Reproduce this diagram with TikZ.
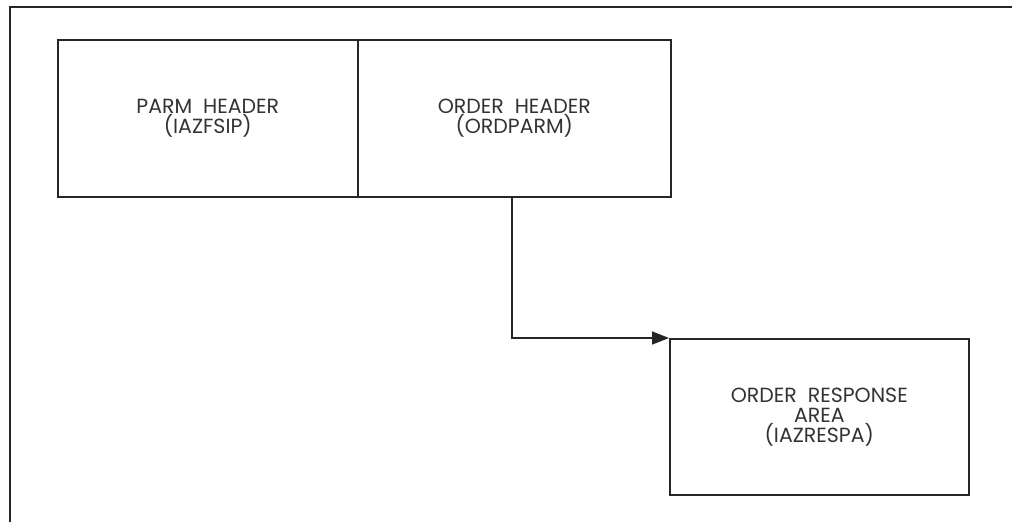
\documentclass[tikz,border=0pt]{standalone}
\usepackage{fontspec}
\setmainfont{Poppins}
\usetikzlibrary{arrows.meta}
\begin{document}
\begin{tikzpicture}[x=1pt,y=-1pt,
  blk/.style={draw=black!85,line width=1.6pt,rectangle,anchor=north west,inner sep=0pt,
    align=center,font=\fontsize{20.5}{20}\selectfont,text=black!80},
  link/.style={draw=black!85,line width=1.6pt,-{Triangle[length=17pt,width=13pt]}}]
\useasboundingbox (0,0) rectangle (1012,522);
\draw[black!85,line width=1.6pt] (10,522) -- (10,7) -- (1012,7);
\node[blk,minimum width=300pt,minimum height=157pt] (parm) at (57,39) {PARM\ \ HEADER\\(IAZFSIP)};
\node[blk,minimum width=313pt,minimum height=157pt] (ord) at (357,39) {ORDER\ \ HEADER\\(ORDPARM)};
\node[blk,minimum width=299pt,minimum height=156pt] (resp) at (669,338) {ORDER\ \ RESPONSE\\AREA\\(IAZRESPA)};
\coordinate (start) at (512,196);
\draw[link] (start) |- (resp.north west);
\end{tikzpicture}
\end{document}
